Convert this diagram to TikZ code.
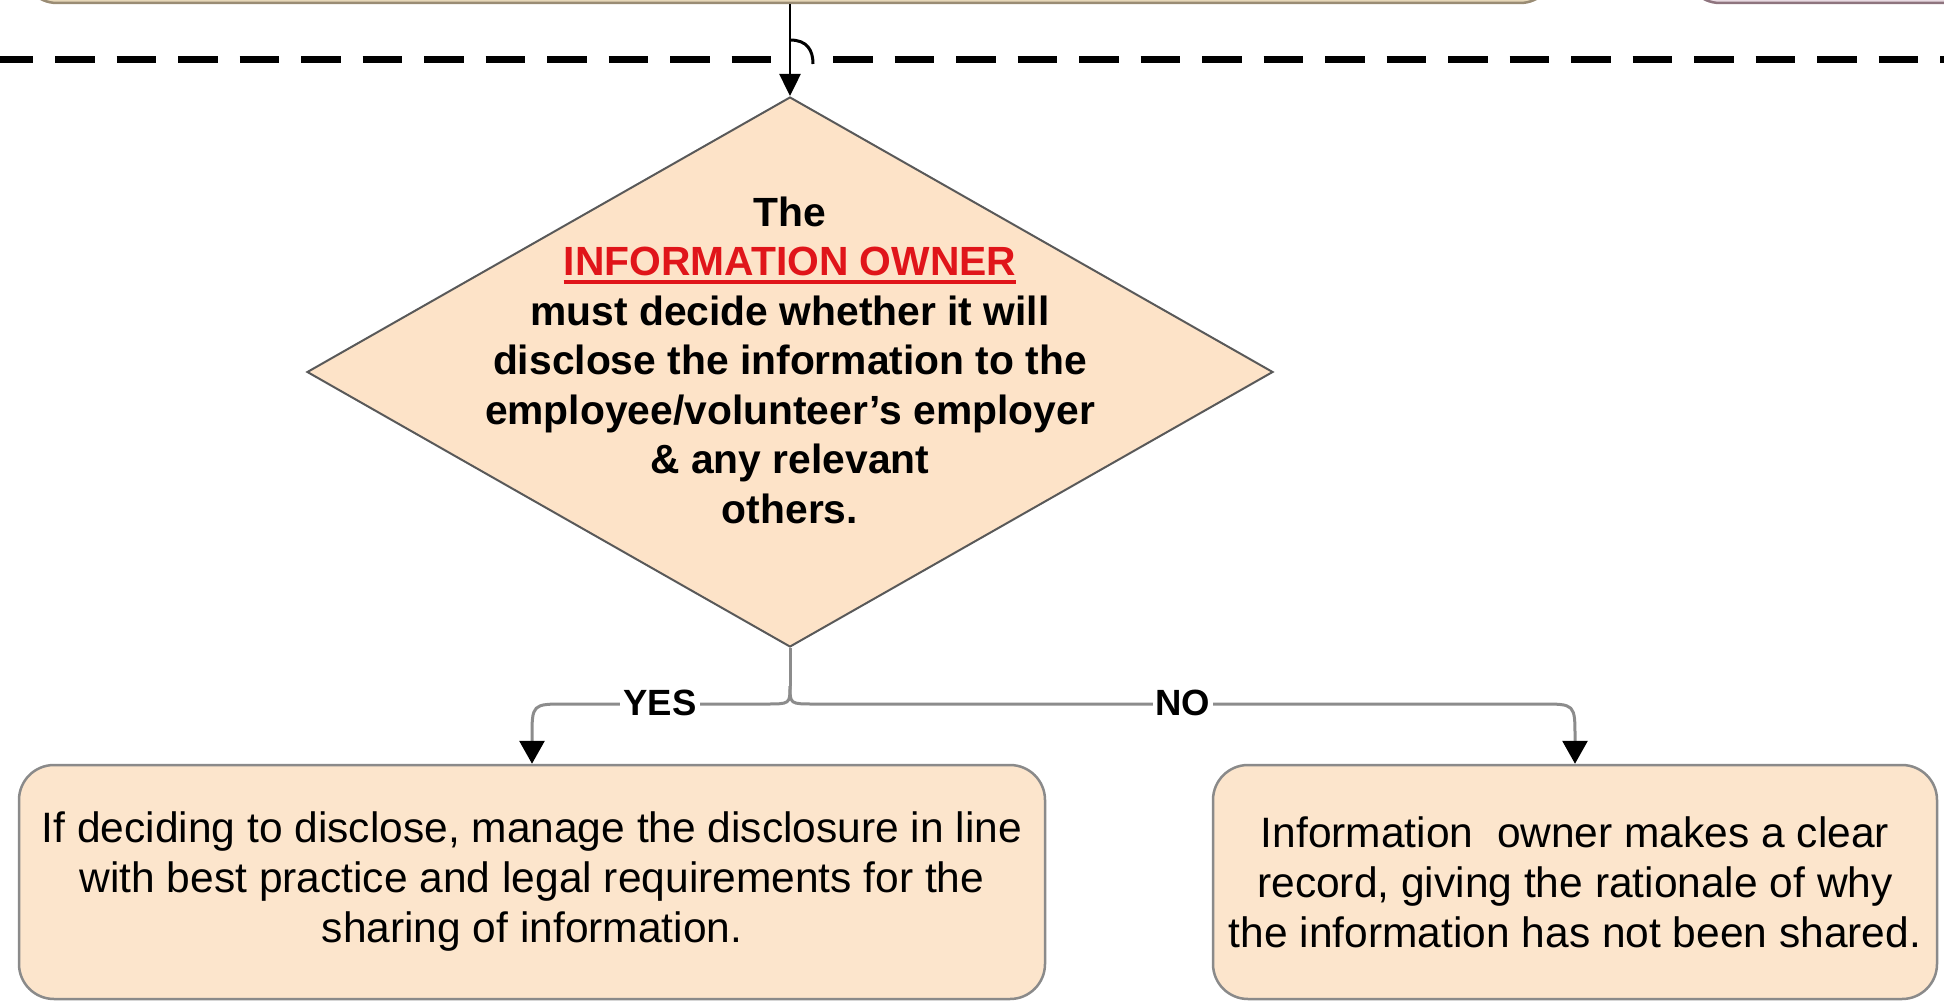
\documentclass[tikz,border=0pt]{standalone}
\usepackage{fontspec}
\setmainfont{Liberation Sans}
\usetikzlibrary{shapes.geometric,arrows.meta,calc}
\definecolor{peach}{HTML}{FCE5CC}
\definecolor{peachd}{HTML}{FDE3C8}
\definecolor{boxline}{HTML}{8A8A8A}
\definecolor{conn}{HTML}{8C8C8C}
\definecolor{ownerred}{HTML}{E0151A}
\definecolor{tantop}{HTML}{E6D7B8}
\definecolor{tanline}{HTML}{9A8C74}
\definecolor{mauvetop}{HTML}{E8DAE2}
\definecolor{mauveline}{HTML}{8E747E}
\newcommand\ownerul[1]{{\setbox0\hbox{#1}\rlap{\rule[-8pt]{\wd0}{3.5pt}}\box0}}
\begin{document}
\begin{tikzpicture}[x=1pt,y=-1pt,
  outcome/.style={draw=boxline, line width=2.5pt, fill=peach, rounded corners=35pt, minimum height=234pt, inner sep=0pt, align=center, font=\fontsize{42.5}{50}\selectfont},
  prevbox/.style={line width=2.5pt, rounded corners=35pt, minimum height=200pt, inner sep=0pt},
  decision/.style={diamond, draw=black!65, line width=2pt, fill=peachd, inner sep=0pt},
  dtext/.style={align=center, font=\bfseries\fontsize{40.8}{49.5}\selectfont, inner sep=0pt},
  flow/.style={draw=conn, line width=3pt},
  tipbig/.style={-{Triangle[length=23pt,width=25pt,color=black]}},
  tiptop/.style={-{Triangle[length=22pt,width=21pt,color=black]}},
  lbl/.style={fill=white, inner xsep=3pt, inner ysep=2pt, font=\bfseries\fontsize{36.5}{40}\selectfont},
  sepline/.style={line width=7pt, dash pattern=on 39.5pt off 22pt},
]
\useasboundingbox (0,0) rectangle (1944,1003);
% previous boxes (only their bottoms are visible)
\node[prevbox, draw=tanline, fill=tantop, minimum width=1533pt] (prevA) at (788.5,-97) {};
\node[prevbox, draw=mauveline, fill=mauvetop, minimum width=415pt] (prevB) at (1892.5,-97) {};
% separator
\draw[sepline] (-6.5,60) -- (772,60);
\draw[sepline] (833,60) -- (1990,60);
% decision
\node[decision, minimum width=966pt, minimum height=550pt] (dia) at (790,372) {};
\node[dtext] (dtxt) at (790,360) {The\\ \textcolor{ownerred}{\ownerul{INFORMATION OWNER}}\\ must decide whether it will\\ disclose the information to the\\ employee/volunteer's employer\\ \& any relevant\\ others.};
% top connector with hop
\draw[line width=2.5pt, tiptop] (dia.north |- prevA.south) -- (dia.north);
\draw[line width=3pt] (790,40) .. controls (807,40) and (813,50) .. (813,64);
% outcome boxes
\node[outcome, minimum width=1026pt] (yesbox) at (532,882) {If deciding to disclose, manage the disclosure in line\\ with best practice and legal requirements for the\\ sharing of information.};
\node[outcome, minimum width=724pt] (nobox) at (1575,882) {Information\ \ owner makes a clear\\ record, giving the rationale of why\\ the information has not been shared.};
% split connectors
\coordinate (split) at (790,686);
\draw[flow] (dia.south) -- (split);
\draw[flow, tipbig] (split) .. controls (790,704) .. (766,704) -- (566,704) .. controls (yesbox.north |- 0,704) .. ($(yesbox.north |- 0,704)+(0,34)$) -- (yesbox.north);
\draw[flow, tipbig] (split) .. controls (790,704) .. (814,704) -- (1541,704) .. controls (nobox.north |- 0,704) .. ($(nobox.north |- 0,704)+(0,34)$) -- (nobox.north);
% labels
\node[lbl] (yes) at (660,703) {YES};
\node[lbl] (no) at (1183,703) {NO};
\end{tikzpicture}
\end{document}
